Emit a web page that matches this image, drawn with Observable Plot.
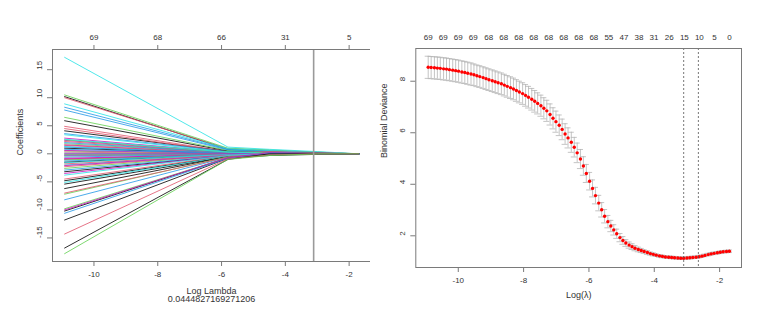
<!DOCTYPE html>
<html>
<head>
<meta charset="utf-8">
<script src="https://cdn.jsdelivr.net/npm/d3@7"></script>
<script src="https://cdn.jsdelivr.net/npm/@observablehq/plot@0.6"></script>
<style>
  html, body { margin: 0; padding: 0; background: #fff; }
  #wrap { position: relative; width: 782px; height: 322px; background: #fff; overflow: hidden; }
  #left, #right { position: absolute; top: 0; }
  #left { left: 0; }
  #right { left: 370px; }
</style>
</head>
<body>
<div id="wrap"><div id="left"></div><div id="right"></div></div>
<script>
// ---------------- Left panel: coefficient paths ----------------
const rPalette = ["#000000", "#DF536B", "#61D04F", "#2297E6", "#28E2E5", "#CD0BBC"];

// log(lambda) knots at which the paths are read
const coefKnots = [-10.92, -5.8, -4.5, -3.0, -1.70];
// coefficient values (series j gets colour j mod 6)
const coefStart = [
  10.2, 10.0, 10.5, 8.3, 17.2, 2.8,
  5.9, 4.9, 6.5, 7.8, 8.9, 2.4,
  4.1, 4.5, 1.8, 3.6, 3.4, 1.6,
  1.0, 2.2, 0.5, 2.0, 1.3, 0.6,
  -1.5, 0.3, -0.4, 0.8, 0.1, -0.3,
  -3.2, -0.9, -2.6, -0.6, -0.2, -0.8,
  -4.8, -2.3, 2.5, -2.9, -2.0, -1.0,
  -5.4, 1.5, -1.1, -1.3, -5.1, -2.1,
  -6.2, -1.8, -0.1, 1.2, 2.6, -3.5,
  -10.2, -4.5, -7.2, -8.2, -1.6, 0.0,
  -11.8, -7.0, -9.8, -10.6, -3.8, -10.0,
  -16.8, -14.3, -17.8
];
const coefMid = [
  0.8, 0.9, 1.0, 0.8, 1.2, 0.3,
  0.5, 0.4, 0.6, 0.7, 0.9, 0.2,
  0.4, 0.3, 0.2, 0.4, 0.3, 0.1,
  0.1, 0.2, 0.0, 0.2, 0.1, 0.1,
  -0.1, 0.0, 0.0, 0.1, 0.0, 0.0,
  -0.3, -0.1, -0.2, 0.0, 0.0, -0.1,
  -0.4, -0.2, 0.3, -0.3, -0.2, -0.1,
  -0.5, 0.1, -0.1, -0.1, -0.4, -0.2,
  -0.5, -0.2, 0.0, 0.1, 0.3, -0.3,
  -0.7, -0.3, -0.5, -0.6, -0.1, 0.0,
  -0.8, -0.6, -0.7, -0.8, -0.3, -0.7,
  -1.0, -0.9, -1.0
];
const coefLate = [
  0.5, 0.6, 0.7, 0.5, 0.8, 0.2,
  0.3, 0.2, 0.4, 0.4, 0.6, 0,
  0, 0, 0, 0.3, 0.2, 0,
  0, 0.4, 0, 0, 0, 0,
  0, 0, 0, 0, 0, 0,
  -0.1, 0, 0, 0, 0, 0,
  0.2, 0.1, 0.2, 0, 0, 0.1,
  0, 0, 0, 0.1, -0.1, 0,
  -0.2, 0, 0, 0, 0.1, -0.1,
  0.1, -0.1, 0.1, -0.2, 0, 0,
  -0.3, 0.3, -0.2, 0.2, 0.1, 0.2,
  0, -0.2, -0.3
];
const coefTail = [
  0.2, 0.3, 0.3, 0.2, 0.4, 0.1,
  0, 0, 0.1, 0.1, 0.2, 0,
  0, 0, 0, 0, 0, 0,
  0, 0.2, 0, 0, 0, 0,
  0, 0, 0, 0, 0, 0,
  0, 0, 0, 0, 0, 0,
  0.1, 0, 0, 0, 0, 0,
  0, 0, 0, 0, 0, 0,
  0, 0, 0, 0, 0, 0,
  0, 0, 0, 0, 0, 0,
  -0.1, 0.1, -0.1, 0.1, 0, 0,
  0, 0, 0
];
const coefAtMaxLambda = 0;

const coefXTicks = [-10, -8, -6, -4, -2];
const coefTopLabels = ["69", "68", "66", "31", "5"];
const coefYTicks = [-15, -10, -5, 0, 5, 10, 15];
const chosenLambda = 0.0444827169271206;

const coefRows = [];
coefStart.forEach((v, j) => {
  const vals = [v, coefMid[j], coefLate[j], coefTail[j], coefAtMaxLambda];
  vals.forEach((y, k) => coefRows.push({id: j, x: coefKnots[k], y}));
});

const font = "'Liberation Sans', Arial, sans-serif";
const textCol = "#333";
const boxCol = "#7a7a7a";

const left = Plot.plot({
  width: 390, height: 322,
  marginLeft: 52, marginRight: 20, marginTop: 49, marginBottom: 61,
  x: {domain: [-11.30, -1.33]},
  y: {domain: [-19.2, 18.6]},
  style: {fontFamily: font, fontSize: "8px", color: textCol, background: "#fff"},
  marks: [
    Plot.line(coefRows, {x: "x", y: "y", z: "id", stroke: d => rPalette[d.id % 6], strokeWidth: 0.9, strokeOpacity: 0.9}),
    Plot.ruleX([Math.log(chosenLambda)], {stroke: "#9a9a9a", strokeWidth: 1.6}),
    Plot.frame({stroke: boxCol}),
    Plot.axisX({ticks: coefXTicks, tickSize: 5, tickPadding: 5, label: null, stroke: boxCol, tickFormat: d => String(d).replace("−", "-")}),
    Plot.axisX({anchor: "top", ticks: coefXTicks, tickSize: 5, tickPadding: 5, label: null, stroke: boxCol, tickFormat: (d, i) => coefTopLabels[i]}),
    Plot.axisY({ticks: coefYTicks, tickSize: 5, label: null, stroke: boxCol, tickFormat: () => ""}),
    Plot.text(coefYTicks, {y: d => d, text: d => String(d), frameAnchor: "left", dx: -13, rotate: -90, fill: textCol}),
    Plot.text(["Log Lambda"], {frameAnchor: "bottom", dy: 32, fontSize: 9, fill: textCol}),
    Plot.text([String(chosenLambda)], {frameAnchor: "bottom", dy: 40.5, fontSize: 9, fill: textCol}),
    Plot.text(["Coefficients"], {frameAnchor: "left", dx: -32, rotate: -90, fontSize: 9, fill: textCol})
  ]
});
document.getElementById("left").appendChild(left);

// ---------------- Right panel: cross-validation curve ----------------
const cvLogLambda = [
  -1.70, -1.79, -1.89, -1.98, -2.07, -2.17, -2.26, -2.35, -2.45, -2.54,
  -2.63, -2.72, -2.82, -2.91, -3.00, -3.10, -3.19, -3.28, -3.38, -3.47,
  -3.56, -3.66, -3.75, -3.84, -3.94, -4.03, -4.12, -4.21, -4.31, -4.40,
  -4.49, -4.59, -4.68, -4.77, -4.87, -4.96, -5.05, -5.15, -5.24, -5.33,
  -5.42, -5.52, -5.61, -5.70, -5.80, -5.89, -5.98, -6.08, -6.17, -6.26,
  -6.36, -6.45, -6.54, -6.64, -6.73, -6.82, -6.91, -7.01, -7.10, -7.19,
  -7.29, -7.38, -7.47, -7.57, -7.66, -7.75, -7.85, -7.94, -8.03, -8.13,
  -8.22, -8.31, -8.40, -8.50, -8.59, -8.68, -8.78, -8.87, -8.96, -9.06,
  -9.15, -9.24, -9.34, -9.43, -9.52, -9.61, -9.71, -9.80, -9.89, -9.99,
  -10.08, -10.17, -10.27, -10.36, -10.45, -10.55, -10.64, -10.73, -10.83, -10.92
];
const cvMean = [
  1.40, 1.39, 1.38, 1.36, 1.34, 1.32, 1.30, 1.27, 1.24, 1.21,
  1.19, 1.17, 1.16, 1.15, 1.14, 1.13, 1.13, 1.14, 1.15, 1.16,
  1.17, 1.18, 1.20, 1.22, 1.25, 1.28, 1.31, 1.35, 1.39, 1.43,
  1.47, 1.52, 1.58, 1.64, 1.72, 1.82, 1.93, 2.08, 2.23, 2.38,
  2.55, 2.76, 3.01, 3.27, 3.56, 3.84, 4.12, 4.42, 4.71, 4.98,
  5.22, 5.44, 5.63, 5.80, 5.95, 6.13, 6.29, 6.43, 6.56, 6.71,
  6.85, 6.95, 7.05, 7.14, 7.22, 7.30, 7.38, 7.45, 7.52, 7.58,
  7.64, 7.70, 7.75, 7.80, 7.85, 7.90, 7.94, 7.98, 8.02, 8.06,
  8.10, 8.14, 8.18, 8.21, 8.25, 8.28, 8.31, 8.34, 8.36, 8.39,
  8.41, 8.43, 8.45, 8.47, 8.48, 8.50, 8.51, 8.52, 8.53, 8.54
];
const cvSD = [
  0.05, 0.05, 0.05, 0.05, 0.05, 0.05, 0.05, 0.05, 0.05, 0.05,
  0.05, 0.05, 0.05, 0.05, 0.05, 0.05, 0.05, 0.05, 0.05, 0.05,
  0.05, 0.05, 0.05, 0.05, 0.05, 0.06, 0.06, 0.07, 0.07, 0.08,
  0.09, 0.10, 0.11, 0.12, 0.13, 0.15, 0.16, 0.18, 0.20, 0.22,
  0.24, 0.26, 0.28, 0.30, 0.32, 0.33, 0.34, 0.35, 0.36, 0.37,
  0.38, 0.38, 0.39, 0.39, 0.40, 0.40, 0.40, 0.41, 0.41, 0.41,
  0.41, 0.41, 0.41, 0.41, 0.42, 0.42, 0.42, 0.42, 0.42, 0.42,
  0.42, 0.42, 0.42, 0.42, 0.42, 0.42, 0.42, 0.42, 0.42, 0.42,
  0.42, 0.42, 0.42, 0.42, 0.42, 0.43, 0.43, 0.43, 0.43, 0.43,
  0.43, 0.43, 0.43, 0.43, 0.43, 0.43, 0.43, 0.43, 0.43, 0.43
];
const cvTopAt = [-10.92, -10.46, -10.00, -9.54, -9.07, -8.61, -8.15, -7.69, -7.23, -6.77,
                 -6.31, -5.85, -5.39, -4.93, -4.47, -4.01, -3.54, -3.08, -2.62, -2.16, -1.70];
const cvTopLabels = ["69", "69", "69", "69", "68", "68", "68", "68", "68", "68",
                     "68", "68", "55", "47", "38", "31", "26", "15", "10", "5", "0"];
const cvXTicks = [-10, -8, -6, -4, -2];
const cvYTicks = [2, 4, 6, 8];
const logLambdaMin = -3.10;
const logLambda1se = -2.65;

const cvRows = cvLogLambda.map((x, i) => ({x, m: cvMean[i], lo: cvMean[i] - cvSD[i], hi: cvMean[i] + cvSD[i]}));
const capHalf = 0.01 * (d3.max(cvLogLambda) - d3.min(cvLogLambda));

const right = Plot.plot({
  width: 412, height: 322,
  marginLeft: 45.3, marginRight: 41, marginTop: 48, marginBottom: 55,
  x: {domain: [-11.30, -1.33]},
  y: {domain: [0.77, 9.27]},
  style: {fontFamily: font, fontSize: "8px", color: textCol, background: "#fff"},
  marks: [
    Plot.ruleX(cvRows, {x: "x", y1: "lo", y2: "hi", stroke: "#b5b5b5", strokeWidth: 0.8}),
    Plot.ruleY(cvRows, {y: "hi", x1: d => d.x - capHalf, x2: d => d.x + capHalf, stroke: "#b5b5b5", strokeWidth: 0.8}),
    Plot.ruleY(cvRows, {y: "lo", x1: d => d.x - capHalf, x2: d => d.x + capHalf, stroke: "#b5b5b5", strokeWidth: 0.8}),
    Plot.dot(cvRows, {x: "x", y: "m", r: 1.7, fill: "red", stroke: null}),
    Plot.ruleX([logLambdaMin, logLambda1se], {stroke: "#555", strokeWidth: 0.8, strokeDasharray: "2,2"}),
    Plot.frame({stroke: boxCol}),
    Plot.axisX({ticks: cvXTicks, tickSize: 5, tickPadding: 5, label: null, stroke: boxCol, tickFormat: d => String(d)}),
    Plot.axisX({anchor: "top", ticks: cvTopAt, tickSize: 0, tickPadding: 9, label: null, tickFormat: (d, i) => cvTopLabels[i]}),
    Plot.axisY({ticks: cvYTicks, tickSize: 5, label: null, stroke: boxCol, tickFormat: () => ""}),
    Plot.text(cvYTicks, {y: d => d, text: d => String(d), frameAnchor: "left", dx: -13, rotate: -90, fill: textCol}),
    Plot.text(["Log(\u03BB)"], {frameAnchor: "bottom", dy: 30, fontSize: 9, fill: textCol}),
    Plot.text(["Binomial Deviance"], {frameAnchor: "left", dx: -31.5, rotate: -90, fontSize: 9, fill: textCol})
  ]
});
document.getElementById("right").appendChild(right);
</script>
</body>
</html>
